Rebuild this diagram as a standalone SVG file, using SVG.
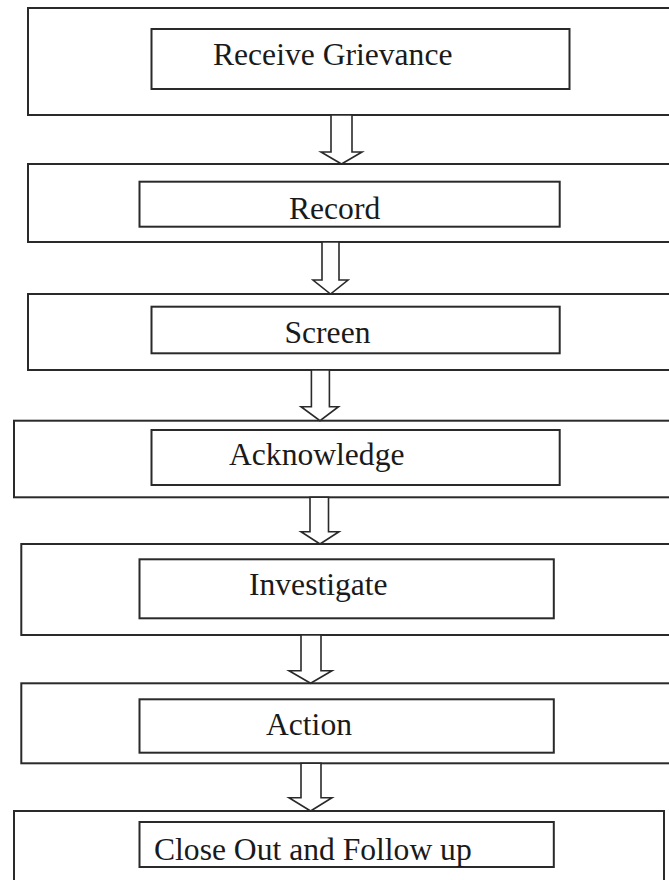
<svg xmlns="http://www.w3.org/2000/svg" width="669" height="880" viewBox="0 0 669 880">
  <style>
    .outer { fill: #ffffff; stroke: #2a2a2a; stroke-width: 2; }
    .inner { fill: #ffffff; stroke: #2a2a2a; stroke-width: 2; }
    .lbl { font-family: "Liberation Serif", "Times New Roman", serif; font-size: 31.6px; fill: #1a1a1a; }
    .arrow { fill: #ffffff; stroke: #2a2a2a; stroke-width: 1.6; stroke-linejoin: miter; }
  </style>
  <defs>
    <clipPath id="clip7"><rect x="139.5" y="822" width="414.3" height="45"/></clipPath>
  </defs>
  <rect x="0" y="0" width="669" height="880" fill="#ffffff"/>

  <g id="node-receive">
    <rect class="outer" x="28" y="8" width="660" height="107"/>
    <rect class="inner" x="151.5" y="29" width="418" height="60"/>
    <text class="lbl" x="213" y="65">Receive Grievance</text>
  </g>
  <g id="node-record">
    <rect class="outer" x="28" y="164" width="660" height="78"/>
    <rect class="inner" x="139.5" y="181.7" width="420.2" height="45"/>
    <text class="lbl" x="289" y="219">Record</text>
  </g>
  <g id="node-screen">
    <rect class="outer" x="28" y="294" width="660" height="76"/>
    <rect class="inner" x="151.5" y="306.7" width="408.2" height="46.6"/>
    <text class="lbl" x="284.5" y="343">Screen</text>
  </g>
  <g id="node-acknowledge">
    <rect class="outer" x="14" y="420.7" width="674" height="76.6"/>
    <rect class="inner" x="151.5" y="430" width="408.2" height="55"/>
    <text class="lbl" x="229" y="465">Acknowledge</text>
  </g>
  <g id="node-investigate">
    <rect class="outer" x="21.3" y="544" width="667" height="91"/>
    <rect class="inner" x="139.5" y="559.3" width="414.3" height="59"/>
    <text class="lbl" x="249" y="595">Investigate</text>
  </g>
  <g id="node-action">
    <rect class="outer" x="21.3" y="683.3" width="667" height="80"/>
    <rect class="inner" x="139.5" y="699.3" width="414.3" height="53.4"/>
    <text class="lbl" x="266" y="735">Action</text>
  </g>
  <g id="node-closeout">
    <rect class="outer" x="14" y="811" width="650" height="80"/>
    <rect class="inner" x="139.5" y="822" width="414.3" height="45"/>
    <text class="lbl" x="154" y="860" clip-path="url(#clip7)">Close Out and Follow up</text>
  </g>

  <g id="connectors">
    <polygon class="arrow" points="331,115 352,115 352,152 362,152 341.5,164 321,152 331,152"/>
    <polygon class="arrow" points="322,242 339,242 339,280 348,280 330.5,294 313,280 322,280"/>
    <polygon class="arrow" points="311.4,370 329.4,370 329.4,406.7 338.5,406.7 320,420.7 301,406.7 311.4,406.7"/>
    <polygon class="arrow" points="310,497.3 328.5,497.3 328.5,531.7 339,531.7 320,544 301,531.7 310,531.7"/>
    <polygon class="arrow" points="301,635 321,635 321,670.7 332,670.7 310.6,683.3 289,670.7 301,670.7"/>
    <polygon class="arrow" points="301,763.3 321,763.3 321,797.7 332,797.7 310.6,811 289,797.7 301,797.7"/>
  </g>
</svg>
